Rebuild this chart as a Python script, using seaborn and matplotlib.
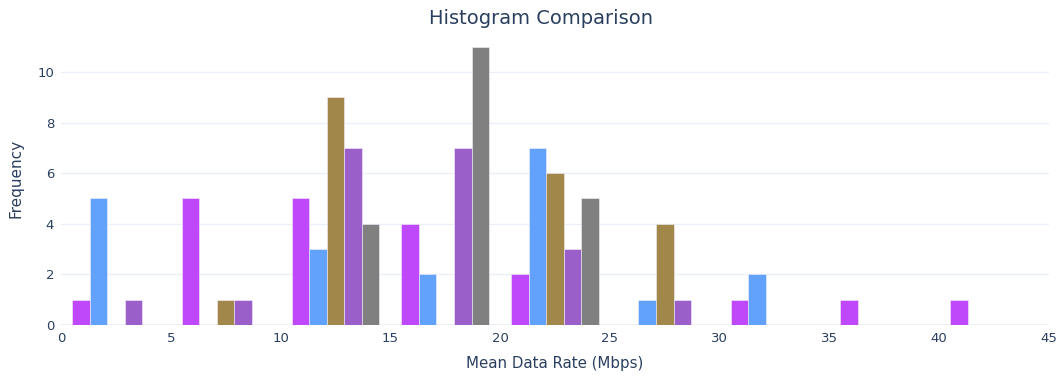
import matplotlib
matplotlib.use("Agg")
import matplotlib.pyplot as plt
import pandas as pd
import seaborn as sns

# bin centers (bins of width 5 from 0 to 45)
bin_centers = [2.5, 7.5, 12.5, 17.5, 22.5, 27.5, 32.5, 37.5, 42.5]

# counts per series
series_a = [1, 5, 5, 4, 2, 0, 1, 1, 1]
series_b = [5, 0, 3, 2, 7, 1, 2, 0, 0]
series_c = [0, 1, 9, 0, 6, 4, 0, 0, 0]
series_d = [1, 1, 7, 7, 3, 1, 0, 0, 0]
series_e = [0, 0, 4, 11, 5, 0, 0, 0, 0]

names = ["A", "B", "C", "D", "E"]
colors = ["#BF48FB", "#62A2FC", "#A1884A", "#9A5FC9", "#808080"]

rows = []
for name, vals in zip(names, [series_a, series_b, series_c, series_d, series_e]):
    for c, v in zip(bin_centers, vals):
        rows.append({"bin": c, "count": v, "series": name})
df = pd.DataFrame(rows)

sns.set_style("white")
plt.rcParams["font.family"] = ["DejaVu Sans"]

fig = plt.figure(figsize=(10.62, 3.78), dpi=100)
ax = fig.add_axes([61 / 1062, 53 / 378, 988 / 1062, 293 / 378])

sns.barplot(data=df, x="bin", y="count", hue="series", hue_order=names,
            palette=colors, native_scale=True, width=0.8, gap=0,
            dodge=True, legend=False, errorbar=None, saturation=1,
            edgecolor="#f4eefa", linewidth=0.4, ax=ax, zorder=3)

ax.set_xlim(0, 45)
ax.set_ylim(0, 11.58)
ax.set_xticks([0, 5, 10, 15, 20, 25, 30, 35, 40, 45])
ax.set_yticks([0, 2, 4, 6, 8, 10])
ax.grid(axis="y", color="#ebf0f8", linewidth=1, zorder=0)
ax.axhline(0, color="#ebf0f8", linewidth=2, zorder=1)
for s in ax.spines.values():
    s.set_visible(False)
ax.tick_params(axis="both", length=0, labelsize=9.5, colors="#2a3f5f", pad=5)

fig.suptitle("Histogram Comparison", fontsize=14, color="#2a3f5f",
             x=541 / 1062, y=1 - 18 / 378, va="center")
ax.set_xlabel("Mean Data Rate (Mbps)", fontsize=10.8, color="#2a3f5f", labelpad=8)
ax.set_ylabel("Frequency", fontsize=11, color="#2a3f5f", labelpad=10)

fig.savefig("out.png", dpi=100, facecolor="white")
